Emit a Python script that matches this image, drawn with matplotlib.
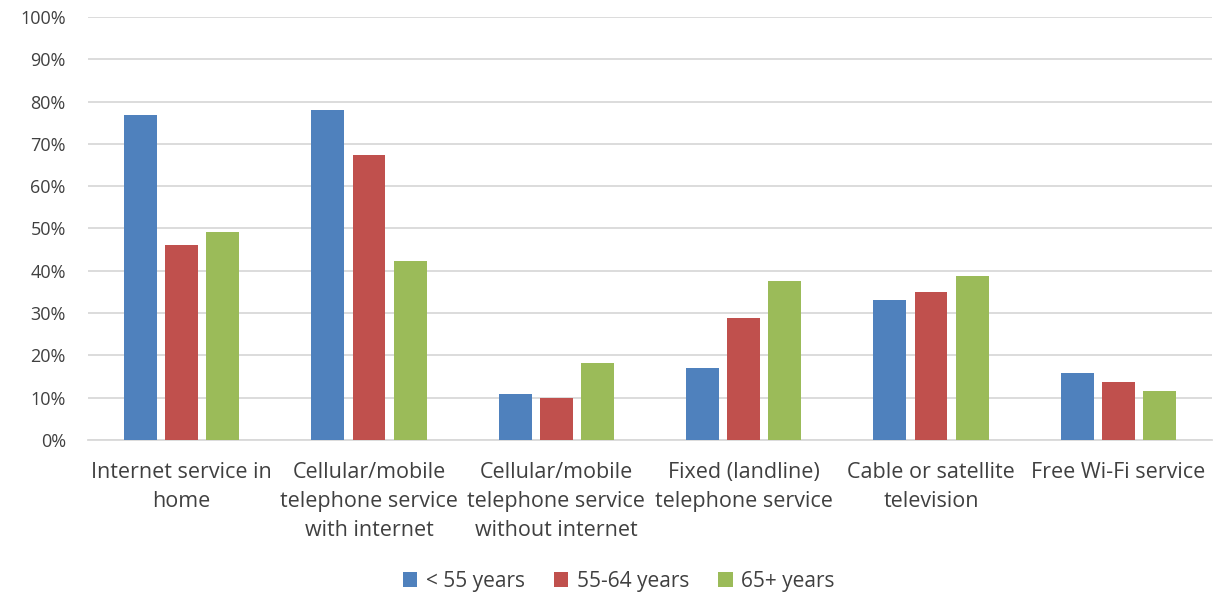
import matplotlib.pyplot as plt
import numpy as np

# values (percent)
categories = ['Internet service in\nhome',
              'Cellular/mobile\ntelephone service\nwith internet',
              'Cellular/mobile\ntelephone service\nwithout internet',
              'Fixed (landline)\ntelephone service',
              'Cable or satellite\ntelevision',
              'Free Wi-Fi service']
under_55 = [76.9, 78.0, 10.9, 17.1, 33.0, 15.8]
age_55_64 = [46.2, 67.4, 10.0, 28.8, 35.1, 13.7]
age_65_plus = [49.1, 42.2, 18.2, 37.5, 38.7, 11.7]
series_names = ['< 55 years', '55-64 years', '65+ years']
colors = ['#4F81BD', '#C0504D', '#9BBB59']

plt.rcParams['font.family'] = ['Open Sans', 'DejaVu Sans']

fig = plt.figure(figsize=(12.13, 5.99), dpi=100)
ax = fig.add_axes([88 / 1213, 1 - 440 / 599, (1212 - 88) / 1213, (440 - 17) / 599])

x = np.arange(len(categories))
width = 0.175
offsets = [-0.22, 0.0, 0.22]
for vals, off, col, name in zip([under_55, age_55_64, age_65_plus], offsets, colors, series_names):
    ax.bar(x + off, vals, width, color=col, label=name, zorder=3)

ax.set_ylim(0, 100)
ax.set_xlim(-0.5, len(categories) - 0.5)
ax.set_yticks(np.arange(0, 101, 10))
ax.set_yticklabels([f'{v}%' for v in range(0, 101, 10)])
ax.yaxis.grid(True, color='#D9D9D9', linewidth=1.3, zorder=0)
ax.set_xticks(x)
ax.set_xticklabels(categories, va='top', linespacing=1.5)

for side in ['top', 'right', 'left']:
    ax.spines[side].set_visible(False)
ax.spines['bottom'].set_color('#D9D9D9')
ax.spines['bottom'].set_linewidth(1.3)
ax.tick_params(axis='both', length=0, colors='#404040')
ax.tick_params(axis='x', pad=16, labelsize=15.5)
ax.tick_params(axis='y', pad=16, labelsize=13)

leg = fig.legend(loc='center', bbox_to_anchor=(0.51, 1 - 581 / 599), ncol=3, frameon=False,
                 fontsize=15, handlelength=0.7, handleheight=0.7, handletextpad=0.4,
                 columnspacing=1.4)
for t in leg.get_texts():
    t.set_color('#404040')

fig.savefig('out.png', dpi=100)
